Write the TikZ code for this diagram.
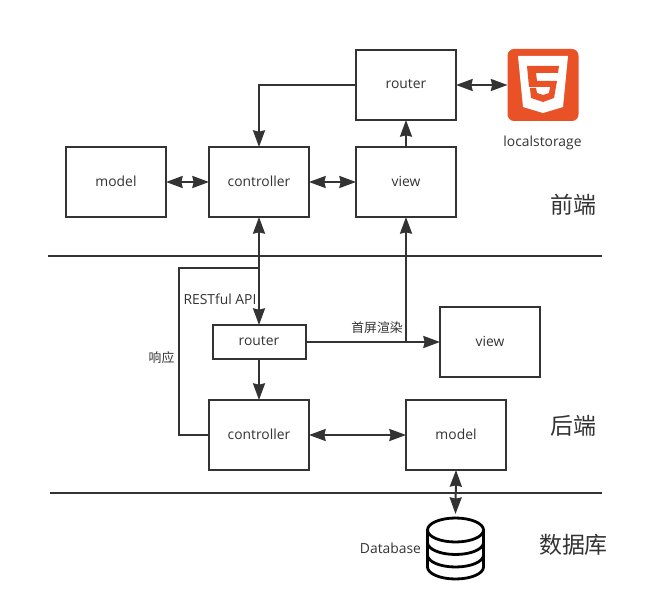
\documentclass[tikz,border=0pt]{standalone}
\usepackage{fontspec}
\setmainfont{Open Sans}
\newfontfamily\cjk{Noto Sans CJK SC}
\usetikzlibrary{arrows.meta}
\definecolor{ink}{HTML}{333333}
\definecolor{htmlred}{HTML}{E95127}
\tikzset{
  boxnode/.style={draw=ink,line width=1.5pt,fill=white,text=ink,font=\fontsize{10.4}{12}\selectfont,text depth=1.5pt,minimum width=75pt,minimum height=52.5pt,inner sep=0pt,outer sep=0pt},
  flow/.style={draw=ink,line width=1.5pt,>={Stealth[length=12.5pt,width=9pt,inset=1pt]}},
  thinflow/.style={draw=ink,line width=1.1pt},
  rule/.style={draw=ink,line width=1.4pt},
  smalltext/.style={text=ink,inner sep=0pt,font=\fontsize{10.4}{12}\selectfont},
  cjktext/.style={text=ink,inner sep=0pt,font=\cjk\fontsize{9.6}{12}\selectfont},
  bigtext/.style={text=ink,inner sep=0pt,font=\cjk\fontsize{17.2}{20}\selectfont},
  cyl/.style={draw=black,line width=2.1pt,line join=round}
}
\begin{document}
\begin{tikzpicture}[x=0.75pt,y=-0.75pt]
\useasboundingbox (0,0) rectangle (659,613);
\coordinate (ruleTopL) at (48,256);
\coordinate (ruleTopR) at (602,256);
\coordinate (ruleBotL) at (50,493);
\coordinate (ruleBotR) at (602,493);
\draw[rule] (ruleTopL) -- (ruleTopR);
\draw[rule] (ruleBotL) -- (ruleBotR);
\node[boxnode] (routerFront) at (406,85) {router};
\node[boxnode] (modelFront) at (116,182) {model};
\node[boxnode] (controllerFront) at (259,182) {controller};
\node[boxnode] (viewFront) at (406,182) {view};
\node[boxnode,minimum width=69.75pt,minimum height=25.5pt] (routerBack) at (259,342) {router};
\node[boxnode] (viewBack) at (490,342) {view};
\node[boxnode] (controllerBack) at (259,435) {controller};
\node[boxnode] (modelBack) at (456,435) {model};
% html5 badge
\node[fill=htmlred,rounded corners=5pt,minimum width=53.25pt,minimum height=54pt,inner sep=0pt,outer sep=0pt] (html) at (543,85) {};
\fill[white] (518,56) -- (568,56) -- (563,107) -- (543,113) -- (523,107) -- cycle;
\fill[htmlred] (527,66) -- (559,66) -- (558,73) -- (536,73) -- (537,81) -- (557,81) -- (554,98) -- (543,102) -- (531,98) -- (530,88) -- (536,88) -- (537,93) -- (543,95) -- (549,93) -- (550,87) -- (529,87) -- cycle;
\node[smalltext] (localLabel) at (542.5,143) {localstorage};
% database
\node[minimum width=42.75pt,minimum height=48.75pt,inner sep=0pt,outer sep=0pt] (database) at (455.5,546.5) {};
\draw[cyl] (427.5,530) arc[start angle=180,end angle=-180,x radius=28,y radius=12] -- (427.5,567) arc[start angle=180,end angle=0,x radius=28,y radius=12] -- (483.5,530);
\draw[cyl] (427.5,542.5) arc[start angle=180,end angle=0,x radius=28,y radius=12];
\draw[cyl] (427.5,555) arc[start angle=180,end angle=0,x radius=28,y radius=12];
\node[smalltext] (dbLabel) at (390.5,548) {Database};
\draw[flow,<->] (routerFront.east) -- (html.west);
\draw[flow,->] (routerFront.west) -| (controllerFront.north);
\draw[flow,->] (viewFront.north) -- (routerFront.south);
\draw[flow,<->] (modelFront.east) -- (controllerFront.west);
\draw[flow,<->] (controllerFront.east) -- (viewFront.west);
\draw[flow,<->] (controllerFront.south) -- (routerBack.north);
\coordinate (joinView) at (406,342);
\draw[flow,->] (joinView) -- (viewFront.south);
\draw[flow,->] (routerBack.east) -- (viewBack.west);
\draw[flow,->] (routerBack.south) -- (controllerBack.north);
\draw[flow,<->] (controllerBack.east) -- (modelBack.west);
\draw[flow,<->] (modelBack.south) -- (database.north);
\coordinate (respCorner) at (179,268);
\coordinate (respEnd) at (259,268);
\draw[thinflow] (controllerBack.west) -| (respCorner) -- (respEnd);
\node[smalltext] (restLabel) at (220,299) {RESTful API};
\node[cjktext] (firstLabel) at (377,328) {首屏渲染};
\node[cjktext] (respLabel) at (161.5,358) {响应};
\node[bigtext] (frontLabel) at (573,205) {前端};
\node[bigtext] (backLabel) at (573,426) {后端};
\node[bigtext] (dataLabel) at (573.5,545) {数据库};
\end{tikzpicture}
\end{document}
